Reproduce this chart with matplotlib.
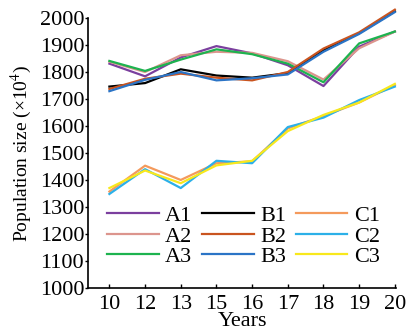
import matplotlib
matplotlib.use("Agg")
import matplotlib.pyplot as plt

plt.rcParams['font.family'] = ['Liberation Serif', 'DejaVu Serif']
plt.rcParams['mathtext.fontset'] = 'stix'

years = ['10', '12', '13', '15', '16', '17', '18', '19', '20']

a1 = [1831, 1784, 1854, 1896, 1869, 1825, 1748, 1894, 1950]
a2 = [1838, 1800, 1862, 1875, 1871, 1840, 1772, 1888, 1950]
a3 = [1841, 1804, 1846, 1884, 1866, 1831, 1762, 1906, 1950]
b1 = [1746, 1759, 1810, 1787, 1779, 1796, 1881, 1944, 2025]
b2 = [1737, 1775, 1794, 1779, 1769, 1800, 1887, 1947, 2031]
b3 = [1729, 1771, 1800, 1769, 1777, 1791, 1875, 1941, 2022]
c1 = [1357, 1453, 1400, 1462, 1469, 1591, 1637, 1687, 1752]
c2 = [1348, 1440, 1370, 1471, 1462, 1596, 1631, 1696, 1746]
c3 = [1370, 1435, 1388, 1454, 1471, 1581, 1641, 1687, 1756]

series = [
    ('A1', a1, '#7b3f9e'), ('A2', a2, '#dc958d'), ('A3', a3, '#1db34f'),
    ('B1', b1, '#000000'), ('B2', b2, '#c9541f'), ('B3', b3, '#2b74c6'),
    ('C1', c1, '#f49a5c'), ('C2', c2, '#2cb0e8'), ('C3', c3, '#f8e81c'),
]

fig = plt.figure(figsize=(4.09, 3.34), dpi=100)
ax = fig.add_axes([0.216, 0.138, 0.752, 0.808])

x = list(range(len(years)))
for name, vals, col in series:
    ax.plot(x, vals, color=col, lw=1.6, label=name, clip_on=False)

ax.set_xlim(-0.59, 8.03)
ax.set_ylim(1000, 2000)
ax.set_xticks(x)
ax.set_xticklabels(years)
ax.set_yticks(range(1000, 2001, 100))

for s in ['top', 'right']:
    ax.spines[s].set_visible(False)
for s in ['left', 'bottom']:
    ax.spines[s].set_linewidth(1.2)
ax.tick_params(axis='x', direction='in', length=3, width=1, labelsize=16, pad=5)
ax.tick_params(axis='y', direction='out', length=2, width=1, labelsize=16, pad=1)

ax.set_ylabel('Population size (×10$^{4}$)', fontsize=14, labelpad=4)
ax.set_xlabel('Years', fontsize=16, labelpad=-1)

ax.legend(loc='upper left', bbox_to_anchor=(0.062, 0.305), ncol=3, frameon=False,
          fontsize=16, handlelength=2.3, handletextpad=0.3, columnspacing=0.45,
          labelspacing=0.0, borderaxespad=0, borderpad=0)

fig.savefig('out.png', dpi=100)
